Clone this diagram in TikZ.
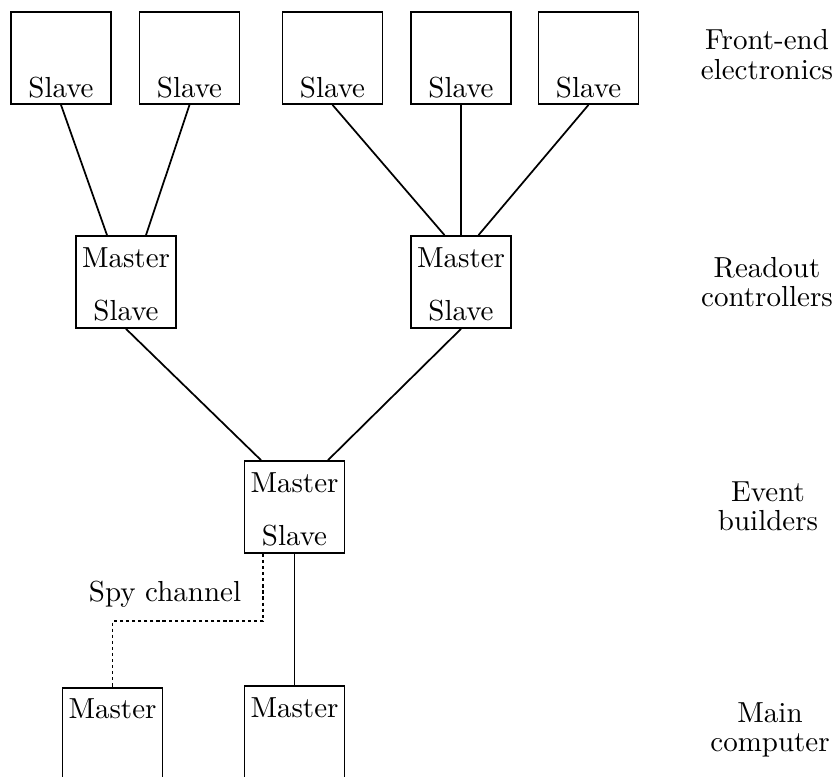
\documentclass[tikz,border=0pt]{standalone}
\usetikzlibrary{calc}
\begin{document}
\begin{tikzpicture}[x=0.345pt,y=-0.345pt,
  box/.style={draw,line width=0.6pt,minimum width=34.5pt,minimum height=31.74pt,inner sep=0pt},
  openbox/.style={box,minimum height=34.5pt},
  txt/.style={anchor=base,inner sep=0pt,font=\fontsize{10}{12}\selectfont},
  link/.style={line width=0.6pt},
  spy/.style={line width=0.6pt,dash pattern=on 1.1pt off 1pt}]
\useasboundingbox (0,0) rectangle (836,776);

% front-end slaves
\node[box] (s1) at (61,58) {};
\node[box] (s2) at (189.5,58) {};
\node[box] (s3) at (332.5,58) {};
\node[box] (s4) at (461,58) {};
\node[box] (s5) at (588.5,58) {};
\node[txt] (s1t) at (61,97) {Slave};
\node[txt] (s2t) at (189.5,97) {Slave};
\node[txt] (s3t) at (332.5,97) {Slave};
\node[txt] (s4t) at (461,97) {Slave};
\node[txt] (s5t) at (588.5,97) {Slave};

% readout controllers
\node[box] (m1) at (126,282) {};
\node[box] (m2) at (461,282) {};
\node[txt] (m1a) at (126,267) {Master};
\node[txt] (m1b) at (126,320) {Slave};
\node[txt] (m2a) at (461,267) {Master};
\node[txt] (m2b) at (461,320) {Slave};

% event builder
\node[box] (ev) at (294.5,507) {};
\node[txt] (eva) at (294.5,492) {Master};
\node[txt] (evb) at (294.5,545) {Slave};

% main computers (running off the bottom edge)
\node[openbox] (c1) at (112.5,738) {};
\node[openbox] (c2) at (294.5,736) {};
\node[txt] (c1t) at (112.5,718) {Master};
\node[txt] (c2t) at (294.5,717) {Master};

% connections
\draw[link] (s1.south) -- ($(m1.north)+(-19,0)$);
\draw[link] (s2.south) -- ($(m1.north)+(20,0)$);
\draw[link] (s3.south) -- ($(m2.north)+(-16.5,0)$);
\draw[link] (s4.south) -- (m2.north);
\draw[link] (s5.south) -- ($(m2.north)+(17.5,0)$);
\draw[link] (m1.south) -- ($(ev.north)+(-33.5,0)$);
\draw[link] (m2.south) -- ($(ev.north)+(33.5,0)$);
\draw[link] (ev.south) -- (c2.north);
\draw[spy] ($(ev.south)+(-31.5,0)$) -- ++(0,67) -| (c1.north);
\node[txt] (spyt) at (165,601) {Spy channel};

% level labels
\node[txt] (l1a) at (767,50) {Front-end};
\node[txt] (l1b) at (767,79) {electronics};
\node[txt] (l2a) at (767,277) {Readout};
\node[txt] (l2b) at (767,306) {controllers};
\node[txt] (l3a) at (768,501) {Event};
\node[txt] (l3b) at (768,530) {builders};
\node[txt] (l4a) at (770,722) {Main};
\node[txt] (l4b) at (770,751) {computer};
\end{tikzpicture}
\end{document}
